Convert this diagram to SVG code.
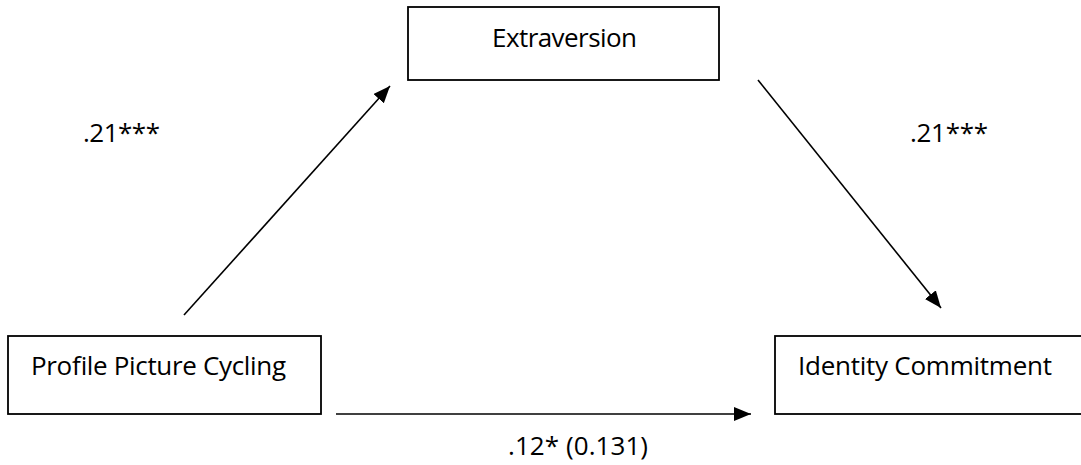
<svg xmlns="http://www.w3.org/2000/svg" width="1081" height="465" viewBox="0 0 1081 465">
<style>
.box{fill:#fff;stroke:#000;stroke-width:1.8}
.lbl{font-family:"Open Sans","Liberation Sans",sans-serif;font-size:26px;fill:#000}
.edge{stroke:#000;stroke-width:1.6;fill:none;marker-end:url(#ah)}
</style>
<defs>
<marker id="ah" markerUnits="userSpaceOnUse" markerWidth="20" markerHeight="16" refX="17" refY="7" orient="auto">
<path d="M0,0 L17,7 L0,14 Z" fill="#000"/>
</marker>
</defs>
<rect width="1081" height="465" fill="#fff"/>
<g id="extraversion">
<rect class="box" x="408" y="7" width="311" height="73"/>
<text class="lbl" x="492" y="47" textLength="145">Extraversion</text>
</g>
<g id="profile">
<rect class="box" x="8" y="336" width="313" height="78"/>
<text class="lbl" x="31" y="375" textLength="255">Profile Picture Cycling</text>
</g>
<g id="identity">
<rect class="box" x="775" y="336" width="312" height="78"/>
<text class="lbl" x="798" y="375" textLength="254">Identity Commitment</text>
</g>
<g id="connectors">
<line class="edge" x1="184" y1="315" x2="390" y2="86"/>
<line class="edge" x1="758" y1="80" x2="941" y2="308"/>
<line class="edge" x1="336" y1="414" x2="751" y2="414"/>
</g>
<g id="labels">
<text class="lbl" x="83" y="142" textLength="77">.21***</text>
<text class="lbl" x="910" y="142" textLength="78">.21***</text>
<text class="lbl" x="508" y="455" textLength="140">.12* (0.131)</text>
</g>
</svg>
